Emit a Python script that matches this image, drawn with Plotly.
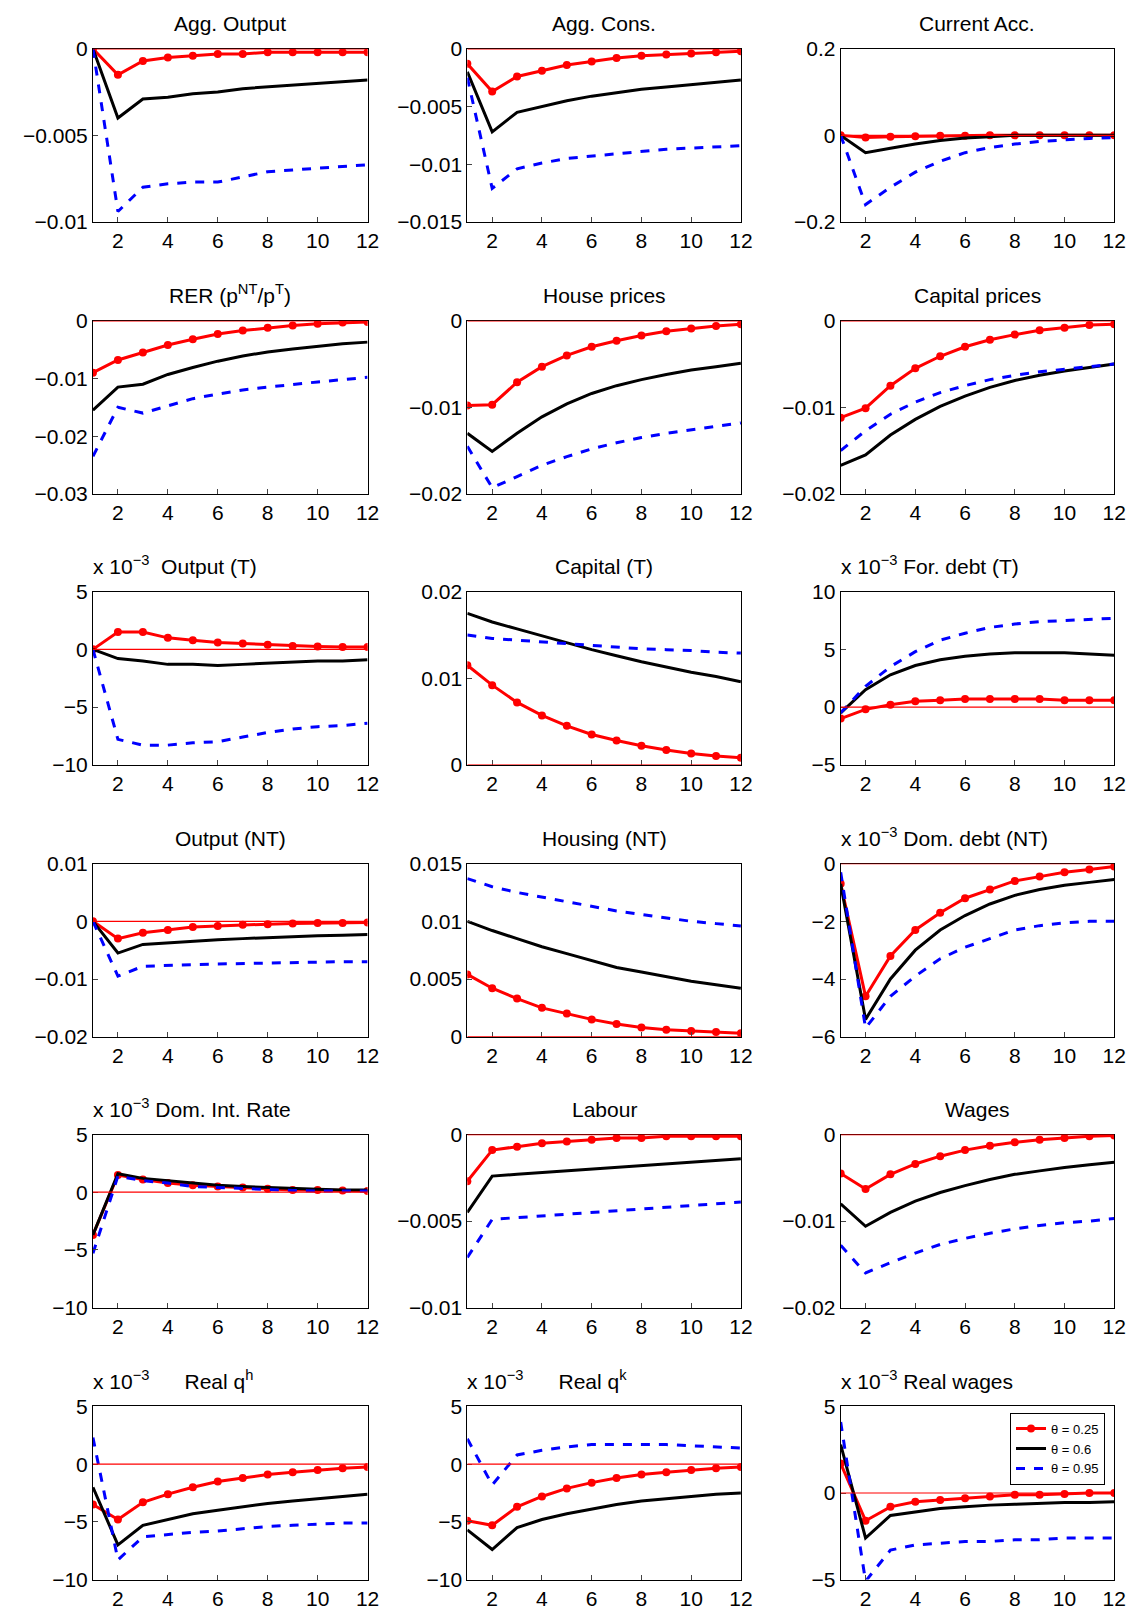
import plotly.graph_objects as go

periods = list(range(1, 13))

titles = ["Agg. Output", "Agg. Cons.", "Current Acc.",
          "RER (p<sup>NT</sup>/p<sup>T</sup>)", "House prices", "Capital prices",
          "x 10<sup>−3</sup>  Output (T)", "Capital (T)", "x 10<sup>−3</sup> For. debt (T)",
          "Output (NT)", "Housing (NT)", "x 10<sup>−3</sup> Dom. debt (NT)",
          "x 10<sup>−3</sup> Dom. Int. Rate", "Labour", "Wages",
          "x 10<sup>−3</sup>      Real q<sup>h</sup>", "x 10<sup>−3</sup>      Real q<sup>k</sup>",
          "x 10<sup>−3</sup> Real wages"]

y_ticks = [
    [-0.01, -0.005, 0], [-0.015, -0.01, -0.005, 0], [-0.2, 0, 0.2],
    [-0.03, -0.02, -0.01, 0], [-0.02, -0.01, 0], [-0.02, -0.01, 0],
    [-10, -5, 0, 5], [0, 0.01, 0.02], [-5, 0, 5, 10],
    [-0.02, -0.01, 0, 0.01], [0, 0.005, 0.01, 0.015], [-6, -4, -2, 0],
    [-10, -5, 0, 5], [-0.01, -0.005, 0], [-0.02, -0.01, 0],
    [-10, -5, 0, 5], [-10, -5, 0, 5], [-5, 0, 5],
]

theta_025 = [
    [0, -0.0015, -0.0007, -0.0005, -0.0004, -0.0003, -0.0003, -0.0002, -0.0002, -0.0002, -0.0002, -0.0002],
    [-0.0013, -0.0037, -0.0024, -0.0019, -0.0014, -0.0011, -0.0008, -0.0006, -0.0005, -0.0004, -0.0003, -0.0002],
    [0, -0.005, -0.003, -0.002, -0.001, -0.001, 0, 0, 0, 0, 0, 0],
    [-0.009, -0.0068, -0.0055, -0.0042, -0.0032, -0.0023, -0.0017, -0.0012, -0.0008, -0.0005, -0.0003, -0.0002],
    [-0.0098, -0.0097, -0.0071, -0.0053, -0.004, -0.003, -0.0023, -0.0017, -0.0012, -0.0009, -0.0006, -0.0004],
    [-0.0112, -0.0101, -0.0075, -0.0055, -0.0041, -0.003, -0.0022, -0.0016, -0.0011, -0.0008, -0.0005, -0.0004],
    [0, 1.5, 1.5, 1.0, 0.8, 0.6, 0.5, 0.4, 0.3, 0.25, 0.2, 0.2],
    [0.0115, 0.0092, 0.0072, 0.0057, 0.0045, 0.0035, 0.0028, 0.0022, 0.0017, 0.0013, 0.001, 0.0008],
    [-1, -0.2, 0.2, 0.5, 0.6, 0.7, 0.7, 0.7, 0.7, 0.6, 0.6, 0.6],
    [0, -0.003, -0.002, -0.0015, -0.001, -0.0008, -0.0006, -0.0005, -0.0004, -0.0003, -0.0003, -0.0002],
    [0.0054, 0.0042, 0.0033, 0.0025, 0.002, 0.0015, 0.0011, 0.0008, 0.0006, 0.0005, 0.0004, 0.0003],
    [-0.7, -4.6, -3.2, -2.3, -1.7, -1.2, -0.9, -0.6, -0.45, -0.3, -0.2, -0.1],
    [-3.7, 1.5, 1.1, 0.8, 0.6, 0.5, 0.4, 0.3, 0.2, 0.2, 0.15, 0.1],
    [-0.0027, -0.0009, -0.0007, -0.0005, -0.0004, -0.0003, -0.0002, -0.0002, -0.0001, -0.0001, -0.0001, -0.0001],
    [-0.0045, -0.0063, -0.0046, -0.0034, -0.0025, -0.0018, -0.0013, -0.0009, -0.0006, -0.0004, -0.0002, -0.0001],
    [-3.5, -4.8, -3.3, -2.6, -2.0, -1.5, -1.2, -0.9, -0.7, -0.5, -0.35, -0.25],
    [-4.9, -5.3, -3.7, -2.8, -2.1, -1.6, -1.2, -0.9, -0.7, -0.5, -0.35, -0.25],
    [1.7, -1.6, -0.8, -0.5, -0.4, -0.3, -0.2, -0.1, -0.1, -0.05, 0, 0],
]

theta_06 = [
    [0, -0.004, -0.0029, -0.0028, -0.0026, -0.0025, -0.0023, -0.0022, -0.0021, -0.002, -0.0019, -0.0018],
    [-0.002, -0.0072, -0.0055, -0.005, -0.0045, -0.0041, -0.0038, -0.0035, -0.0033, -0.0031, -0.0029, -0.0027],
    [0, -0.04, -0.03, -0.02, -0.012, -0.006, -0.003, 0, 0, 0, 0, 0],
    [-0.0155, -0.0115, -0.011, -0.0093, -0.0081, -0.007, -0.0061, -0.0054, -0.0049, -0.0044, -0.004, -0.0037],
    [-0.013, -0.0151, -0.013, -0.0111, -0.0096, -0.0084, -0.0075, -0.0068, -0.0062, -0.0057, -0.0053, -0.0049],
    [-0.0167, -0.0155, -0.0132, -0.0114, -0.0099, -0.0087, -0.0077, -0.0069, -0.0063, -0.0058, -0.0054, -0.005],
    [0, -0.8, -1, -1.3, -1.3, -1.4, -1.3, -1.2, -1.1, -1, -1, -0.9],
    [0.0175, 0.0165, 0.0157, 0.0149, 0.0141, 0.0133, 0.0126, 0.0119, 0.0113, 0.0107, 0.0102, 0.0096],
    [-0.5, 1.5, 2.8, 3.6, 4.1, 4.4, 4.6, 4.7, 4.7, 4.7, 4.6, 4.5],
    [0, -0.0055, -0.004, -0.0037, -0.0034, -0.0032, -0.003, -0.0028, -0.0026, -0.0025, -0.0024, -0.0023],
    [0.01, 0.0092, 0.0085, 0.0078, 0.0072, 0.0066, 0.006, 0.0056, 0.0052, 0.0048, 0.0045, 0.0042],
    [-0.7, -5.4, -4, -3.0, -2.3, -1.8, -1.4, -1.1, -0.9, -0.75, -0.65, -0.55],
    [-3.7, 1.6, 1.2, 1.0, 0.8, 0.6, 0.5, 0.4, 0.3, 0.25, 0.2, 0.2],
    [-0.0045, -0.0024, -0.0023, -0.0022, -0.0021, -0.002, -0.0019, -0.0018, -0.0017, -0.0016, -0.0015, -0.0014],
    [-0.008, -0.0106, -0.009, -0.0077, -0.0067, -0.0059, -0.0052, -0.0046, -0.0042, -0.0038, -0.0035, -0.0032],
    [-2, -7.0, -5.3, -4.8, -4.3, -4.0, -3.7, -3.4, -3.2, -3.0, -2.8, -2.6],
    [-5.7, -7.4, -5.5, -4.8, -4.3, -3.9, -3.5, -3.2, -3.0, -2.8, -2.6, -2.5],
    [2.8, -2.6, -1.3, -1.1, -0.9, -0.8, -0.7, -0.65, -0.6, -0.55, -0.55, -0.5],
]

theta_095 = [
    [0, -0.0094, -0.008, -0.0078, -0.0077, -0.0077, -0.0074, -0.0071, -0.007, -0.0069, -0.0068, -0.0067],
    [-0.0025, -0.0121, -0.0104, -0.0099, -0.0095, -0.0093, -0.0091, -0.0089, -0.0087, -0.0086, -0.0085, -0.0084],
    [0, -0.16, -0.12, -0.085, -0.06, -0.04, -0.028, -0.02, -0.014, -0.01, -0.007, -0.005],
    [-0.0235, -0.015, -0.016, -0.0147, -0.0135, -0.0127, -0.012, -0.0115, -0.011, -0.0106, -0.0102, -0.0098],
    [-0.0145, -0.0193, -0.018, -0.0167, -0.0157, -0.0148, -0.0141, -0.0135, -0.013, -0.0126, -0.0122, -0.0118],
    [-0.015, -0.0127, -0.0108, -0.0094, -0.0083, -0.0075, -0.0068, -0.0063, -0.0059, -0.0056, -0.0053, -0.005],
    [0, -7.8, -8.3, -8.3, -8.1, -8.0, -7.6, -7.2, -6.9, -6.7, -6.6, -6.4],
    [0.015, 0.0146, 0.0144, 0.0142, 0.014, 0.0138, 0.0136, 0.0134, 0.0133, 0.0132, 0.013, 0.0129],
    [-0.5, 1.8, 3.5, 4.8, 5.8, 6.4, 6.9, 7.2, 7.4, 7.5, 7.6, 7.7],
    [0, -0.0095, -0.0078, -0.0076, -0.0075, -0.0074, -0.0073, -0.0072, -0.0071, -0.0071, -0.007, -0.007],
    [0.0137, 0.013, 0.0125, 0.0121, 0.0117, 0.0113, 0.0109, 0.0106, 0.0103, 0.01, 0.0098, 0.0096],
    [-0.3, -5.7, -4.6, -3.9, -3.3, -2.9, -2.6, -2.3, -2.15, -2.05, -2, -2],
    [-5.3, 1.4, 1.0, 0.8, 0.5, 0.4, 0.3, 0.2, 0.15, 0.1, 0.1, 0.1],
    [-0.0071, -0.0049, -0.0048, -0.0047, -0.0046, -0.0045, -0.0044, -0.0043, -0.0042, -0.0041, -0.004, -0.0039],
    [-0.0128, -0.016, -0.0148, -0.0137, -0.0127, -0.012, -0.0114, -0.0109, -0.0105, -0.0102, -0.01, -0.0097],
    [2.3, -8.3, -6.3, -6.1, -5.9, -5.8, -5.6, -5.4, -5.3, -5.2, -5.1, -5.1],
    [2.2, -1.8, 0.8, 1.2, 1.5, 1.7, 1.7, 1.7, 1.7, 1.6, 1.5, 1.4],
    [4.1, -5.1, -3.3, -3.0, -2.9, -2.8, -2.8, -2.7, -2.7, -2.6, -2.6, -2.6],
]

W, H = 1135, 1618
col_px = [(88, 355), (452, 718), (815, 1081)]
row_px = [(45, 213), (309, 477), (572, 740), (836, 1004), (1099, 1267), (1363, 1531)]


# the page photo came out scaled and shifted, so correct the target pixels
def fx(p):
    return (p - 5.4) / 0.962


def fy(p):
    return (p - 17) / 0.957


fig = go.Figure()
font = dict(family="Liberation Sans, Arial", size=21, color="black")
layout = {}

for i in range(18):
    r, c = divmod(i, 3)
    n = "" if i == 0 else str(i + 1)
    xa, ya = "x" + n, "y" + n
    show = i == 17
    fig.add_trace(go.Scatter(x=periods, y=theta_025[i], xaxis=xa, yaxis=ya, mode="lines+markers",
                             line=dict(color="#ff0000", width=3), marker=dict(size=8, color="#ff0000"),
                             name="θ = 0.25", showlegend=show))
    fig.add_trace(go.Scatter(x=periods, y=theta_06[i], xaxis=xa, yaxis=ya, mode="lines",
                             line=dict(color="black", width=3), name="θ = 0.6", showlegend=show))
    fig.add_trace(go.Scatter(x=periods, y=theta_095[i], xaxis=xa, yaxis=ya, mode="lines",
                             line=dict(color="#0000ff", width=3, dash="dash"), name="θ = 0.95",
                             showlegend=show))
    yt = y_ticks[i]
    x0, x1 = fx(col_px[c][0]), fx(col_px[c][1])
    y0, y1 = fy(row_px[r][0]), fy(row_px[r][1])
    layout["xaxis" + n] = dict(domain=[x0 / W, x1 / W], anchor=ya, range=[1, 12],
                               tickvals=[2, 4, 6, 8, 10, 12], ticks="inside", ticklen=5,
                               showline=True, linecolor="black", mirror=True, showgrid=False,
                               zeroline=False, tickfont=font)
    layout["yaxis" + n] = dict(domain=[1 - y1 / H, 1 - y0 / H], anchor=xa, range=[yt[0], yt[-1]],
                               tickvals=yt, ticktext=[("%g" % v).replace("-", "−") for v in yt],
                               ticks="inside", ticklen=5, showline=True, linecolor="black",
                               mirror=True, showgrid=False, zeroline=False, tickfont=font)
    fig.add_shape(type="line", xref=xa, yref=ya, x0=1, x1=12, y0=0, y1=0,
                  line=dict(color="#ff0000", width=1.2))
    is_exp = titles[i].startswith("x 10")
    fig.add_annotation(text=titles[i], xref="paper", yref="paper",
                       x=(x0 - 2) / W if is_exp else (x0 + x1) / 2 / W,
                       xanchor="left" if is_exp else "center",
                       y=1 - (y0 - 12) / H, yanchor="bottom", showarrow=False, font=font)

fig.update_layout(**layout)
fig.update_layout(width=W, height=H, margin=dict(l=0, r=0, t=0, b=0),
                  plot_bgcolor="white", paper_bgcolor="white",
                  legend=dict(x=fx(1072) / W, xanchor="right", y=1 - fy(1369) / H, yanchor="top",
                              bgcolor="white", bordercolor="black", borderwidth=1,
                              font=dict(family="Liberation Sans, Arial", size=13, color="black"),
                              tracegroupgap=0, itemwidth=30))

fig.write_html("out.html")
